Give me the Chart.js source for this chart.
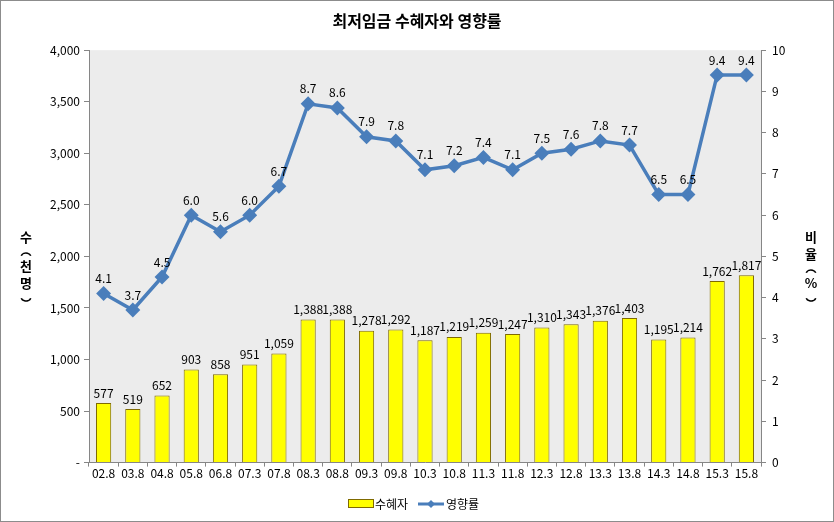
<!DOCTYPE html>
<html>
<head>
<meta charset="utf-8">
<script src="https://cdn.jsdelivr.net/npm/chart.js@4"></script>
<style>
  body { margin: 0; background: #fff; }
  #wrap { position: relative; width: 832px; height: 520px; border: 1px solid #8c8c8c; }
</style>
</head>
<body>
<div id="wrap"><canvas id="wageChart" width="832" height="520"></canvas></div>
<script>
// 최저임금 수혜자와 영향률
const periods = ['02.8','03.8','04.8','05.8','06.8','07.3','07.8','08.3','08.8','09.3','09.8','10.3','10.8','11.3','11.8','12.3','12.8','13.3','13.8','14.3','14.8','15.3','15.8'];
const beneficiaries = [577, 519, 652, 903, 858, 951, 1059, 1388, 1388, 1278, 1292, 1187, 1219, 1259, 1247, 1310, 1343, 1376, 1403, 1195, 1214, 1762, 1817];
const impactRate = [4.1, 3.7, 4.5, 6.0, 5.6, 6.0, 6.7, 8.7, 8.6, 7.9, 7.8, 7.1, 7.2, 7.4, 7.1, 7.5, 7.6, 7.8, 7.7, 6.5, 6.5, 9.4, 9.4];
const leftTicks = [0, 500, 1000, 1500, 2000, 2500, 3000, 3500, 4000];
const rightTicks = [0, 1, 2, 3, 4, 5, 6, 7, 8, 9, 10];

const fontName = "'Noto Sans CJK KR', 'Noto Sans', sans-serif";
const barFill = '#ffff00';
const barLine = '#7f6a00';
const lineColor = '#4a7ebb';

// gray plot background
const plotBg = {
  id: 'plotBg',
  beforeDraw(chart) {
    const { ctx, chartArea: a } = chart;
    ctx.save();
    ctx.fillStyle = '#ececec';
    ctx.fillRect(a.left, a.top, a.right - a.left, a.bottom - a.top);
    ctx.restore();
  }
};

// value labels on bars and points
const valueLabels = {
  id: 'valueLabels',
  afterDatasetsDraw(chart) {
    const ctx = chart.ctx;
    ctx.save();
    ctx.font = '12px ' + fontName;
    ctx.fillStyle = '#000';
    ctx.textAlign = 'center';
    ctx.textBaseline = 'bottom';
    chart.getDatasetMeta(0).data.forEach((bar, i) => {
      ctx.fillText(beneficiaries[i].toLocaleString('en-US'), bar.x, bar.y - 4);
    });
    chart.getDatasetMeta(1).data.forEach((pt, i) => {
      ctx.fillText(impactRate[i].toFixed(1), pt.x, pt.y - 9);
    });
    ctx.restore();
  }
};

// stacked vertical axis titles + legend
const sideTitles = {
  id: 'sideTitles',
  afterDraw(chart) {
    const ctx = chart.ctx;
    ctx.save();
    ctx.font = 'bold 13px ' + fontName;
    ctx.fillStyle = '#000';
    ctx.strokeStyle = '#000';
    ctx.lineWidth = 1.6;
    ctx.textAlign = 'center';
    ctx.textBaseline = 'middle';
    // '(' and ')' are drawn as turned arcs like in vertical text
    const drawStack = (chars, x, yTop) => {
      let y = yTop;
      chars.forEach(c => {
        if (c === '(' || c === ')') {
          ctx.beginPath();
          if (c === '(') ctx.ellipse(x, y + 3, 5, 4, 0, Math.PI * 1.1, Math.PI * 1.9);
          else ctx.ellipse(x, y - 3, 5, 4, 0, Math.PI * 0.1, Math.PI * 0.9);
          ctx.stroke();
          y += 12;
        } else {
          ctx.fillText(c, x, y);
          y += 17;
        }
      });
    };
    drawStack(['수', '(', '천', '명', ')'], 25, 236);
    drawStack(['비', '율', '(', '%', ')'], 810, 236);

    // legend
    const ly = 503;
    ctx.font = '12px ' + fontName;
    ctx.textAlign = 'left';
    ctx.fillStyle = barFill;
    ctx.strokeStyle = barLine;
    ctx.lineWidth = 1;
    ctx.fillRect(347.5, ly - 4.5, 25, 8);
    ctx.strokeRect(347.5, ly - 4.5, 25, 8);
    ctx.fillStyle = '#000';
    ctx.fillText('수혜자', 374, ly);
    ctx.strokeStyle = lineColor;
    ctx.lineWidth = 3;
    ctx.beginPath();
    ctx.moveTo(417, ly);
    ctx.lineTo(443, ly);
    ctx.stroke();
    ctx.fillStyle = lineColor;
    ctx.beginPath();
    ctx.moveTo(430, ly - 4);
    ctx.lineTo(434, ly);
    ctx.lineTo(430, ly + 4);
    ctx.lineTo(426, ly);
    ctx.closePath();
    ctx.fill();
    ctx.fillStyle = '#000';
    ctx.fillText('영향률', 445, ly);
    ctx.restore();
  }
};

new Chart(document.getElementById('wageChart').getContext('2d'), {
  type: 'bar',
  data: {
    labels: periods,
    datasets: [{
      type: 'bar',
      label: '수혜자',
      data: beneficiaries,
      backgroundColor: barFill,
      borderColor: barLine,
      borderWidth: 1,
      barPercentage: 0.52,
      categoryPercentage: 1,
      yAxisID: 'y',
      order: 2
    }, {
      type: 'line',
      label: '영향률',
      data: impactRate,
      borderColor: lineColor,
      backgroundColor: lineColor,
      borderWidth: 3.5,
      pointStyle: 'rectRot',
      pointRadius: 5,
      pointHoverRadius: 5,
      tension: 0,
      yAxisID: 'y1',
      order: 1
    }]
  },
  options: {
    responsive: false,
    animation: false,
    layout: { padding: { left: 0, right: 0, top: 0, bottom: 40 } },
    plugins: {
      title: {
        display: true,
        text: '최저임금 수혜자와 영향률',
        font: { family: fontName, size: 16, weight: 'bold' },
        color: '#000',
        padding: { top: 10, bottom: 20 }
      },
      legend: { display: false },
      tooltip: { enabled: false }
    },
    scales: {
      x: {
        grid: { display: true, drawOnChartArea: false, drawTicks: true, tickLength: 4, color: '#868686', offset: true },
        border: { color: '#868686' },
        ticks: { color: '#000', font: { family: fontName, size: 12 }, maxRotation: 0, autoSkip: false, padding: 0 }
      },
      y: {
        position: 'left',
        min: 0, max: 4000,
        afterFit(scale) { scale.width = 88; },
        afterBuildTicks(scale) { scale.ticks = leftTicks.map(v => ({ value: v })); },
        grid: { display: true, drawOnChartArea: false, drawTicks: true, tickLength: 5, color: '#868686' },
        border: { color: '#868686' },
        ticks: {
          color: '#000',
          font: { family: fontName, size: 12 },
          padding: 4,
          callback: v => v === 0 ? '-' : v.toLocaleString('en-US')
        }
      },
      y1: {
        position: 'right',
        min: 0, max: 10,
        afterFit(scale) { scale.width = 72; },
        afterBuildTicks(scale) { scale.ticks = rightTicks.map(v => ({ value: v })); },
        grid: { display: true, drawOnChartArea: false, drawTicks: true, tickLength: 5, color: '#868686' },
        border: { color: '#868686' },
        ticks: { color: '#000', font: { family: fontName, size: 12 }, padding: 6 }
      }
    }
  },
  plugins: [plotBg, valueLabels, sideTitles]
});
</script>
</body>
</html>
